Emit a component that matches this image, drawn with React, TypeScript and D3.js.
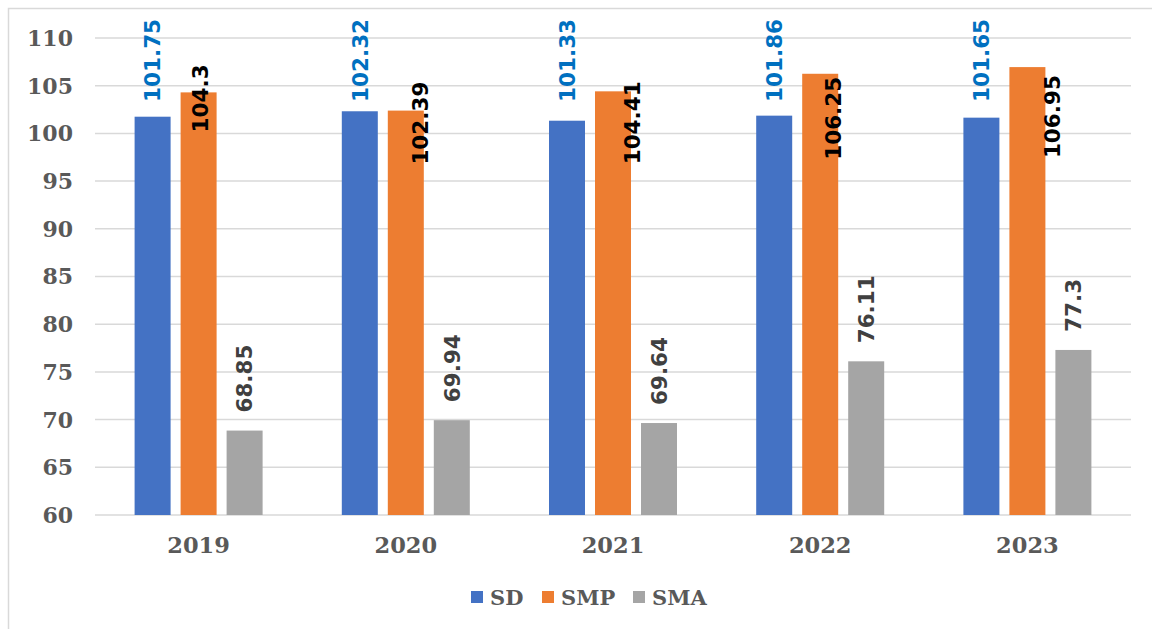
import React from "react";
import * as d3 from "d3";

const years = ["2019", "2020", "2021", "2022", "2023"];
const seriesNames = ["SD", "SMP", "SMA"];
const sdValues = [101.75, 102.32, 101.33, 101.86, 101.65];
const smpValues = [104.3, 102.39, 104.41, 106.25, 106.95];
const smaValues = [68.85, 69.94, 69.64, 76.11, 77.3];
const yTicks = [60, 65, 70, 75, 80, 85, 90, 95, 100, 105, 110];

const colors = ["#4472C4", "#ED7D31", "#A5A5A5"];
const labelColors = ["#0070C0", "#000000", "#404040"];
// manual label nudges for SMP labels (dx from bar center, dy below bar top)
const smpNudge: [number, number][] = [[2, 40], [14, 54], [19, 73], [13, 86], [25, 91]];

const W = 1152;
const H = 629;

export default function App() {
  const x = d3.scaleBand<string>().domain(years).range([95, 1131]).paddingInner(0).paddingOuter(0);
  const inner = d3.scaleBand<string>().domain(seriesNames).range([-64, 64]).paddingInner(0.2174).paddingOuter(0);
  const y = d3.scaleLinear().domain([60, 110]).range([515, 38]);
  const all = [sdValues, smpValues, smaValues];
  const serif = "'DejaVu Serif', serif";
  const sans = "'DejaVu Sans', sans-serif";
  const labelFs = 21.5;

  return (
    <svg width={W} height={H} style={{ position: "absolute", left: 0, top: 0, background: "#fff" }}>
      <rect x={8.5} y={8.5} width={1160} height={640} fill="#fff" stroke="#D9D9D9" strokeWidth={1.5} />
      {yTicks.map((t) => (
        <g key={t}>
          <line x1={95} x2={1131} y1={y(t)} y2={y(t)} stroke="#D9D9D9" strokeWidth={1.5} />
          <text x={73} y={y(t)} dy="0.36em" textAnchor="end" fontFamily={serif} fontWeight="bold" fontSize={22} fill="#595959">
            {t}
          </text>
        </g>
      ))}
      {years.map((yr, i) => {
        const cx = (x(yr) ?? 0) + x.bandwidth() / 2;
        return (
          <g key={yr}>
            {seriesNames.map((s, k) => {
              const v = all[k][i];
              const bx = cx + (inner(s) ?? 0);
              const top = y(v);
              return <rect key={s} x={bx} y={top} width={inner.bandwidth()} height={y(60) - top} fill={colors[k]} />;
            })}
            <text x={cx} y={553} textAnchor="middle" fontFamily={serif} fontWeight="bold" fontSize={22.5} fill="#595959">
              {yr}
            </text>
            {seriesNames.map((s, k) => {
              const v = all[k][i];
              const bc = cx + (inner(s) ?? 0) + inner.bandwidth() / 2;
              let lx = bc;
              let ly = y(v) - 18;
              if (k === 0) ly = y(103.3);
              if (k === 1) {
                lx = bc + smpNudge[i][0];
                ly = y(v) + smpNudge[i][1];
              }
              return (
                <text
                  key={s}
                  transform={`translate(${lx},${ly}) rotate(-90)`}
                  dy="0.36em"
                  textAnchor="start"
                  fontFamily={sans}
                  fontWeight="bold"
                  fontSize={labelFs}
                  fill={labelColors[k]}
                >
                  {String(v)}
                </text>
              );
            })}
          </g>
        );
      })}
      {seriesNames.map((s, k) => {
        const lx = [471, 542, 633][k];
        return (
          <g key={s}>
            <rect x={lx} y={591} width={12} height={12} fill={colors[k]} />
            <text x={lx + 19} y={597} dy="0.36em" fontFamily={serif} fontWeight="bold" fontSize={21} fill="#595959">
              {s}
            </text>
          </g>
        );
      })}
    </svg>
  );
}
